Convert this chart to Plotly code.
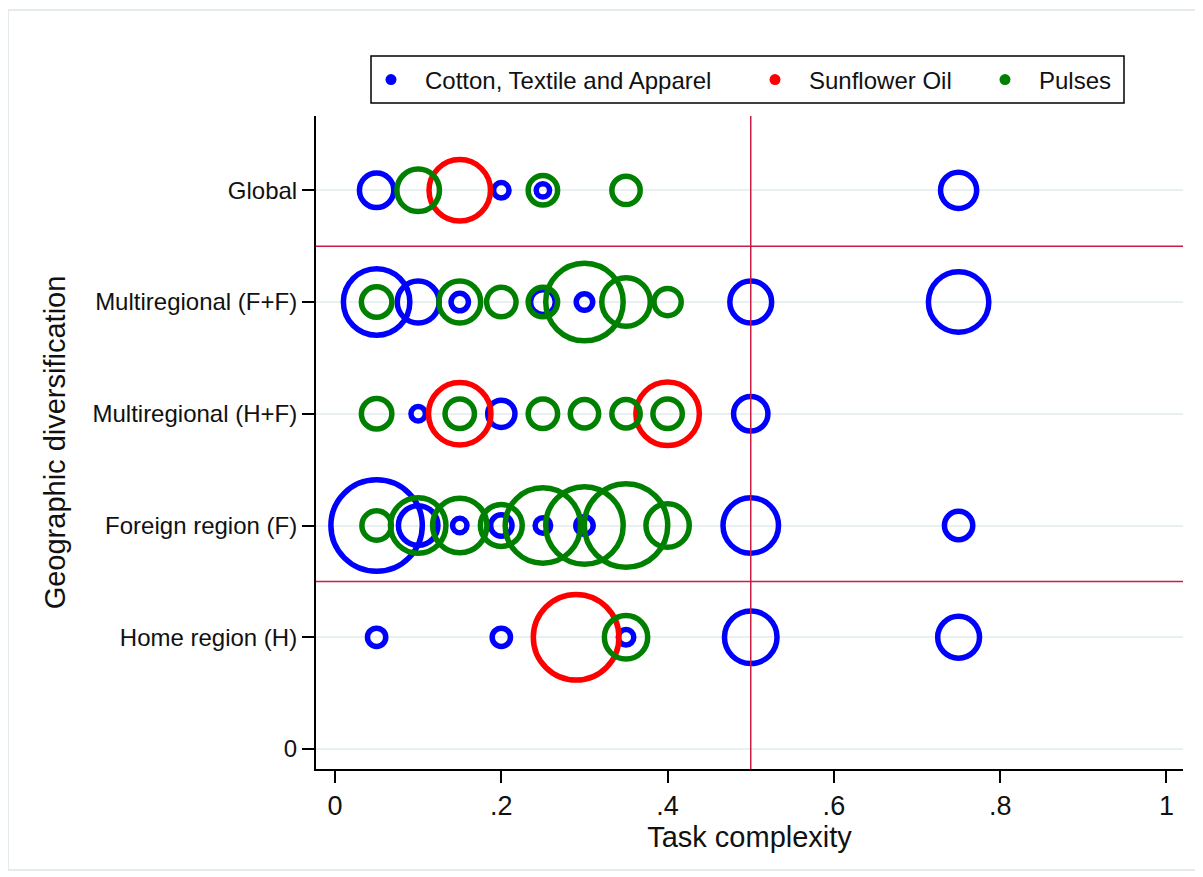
import plotly.graph_objects as go
import numpy as np

# ---------------- data ----------------
y_tickvals = [0, 1, 2, 3, 4, 5]
y_ticktext = ["0", "Home region (H)", "Foreign region (F)", "Multiregional (H+F)",
              "Multiregional (F+F)", "Global"]
x_tickvals = [0, 0.2, 0.4, 0.6, 0.8, 1.0]
x_ticktext = ["0", ".2", ".4", ".6", ".8", "1"]

series_names = ["Cotton, Textile and Apparel", "Sunflower Oil", "Pulses"]

cotton_x = [0.05, 0.2, 0.25, 0.75,
            0.05, 0.1, 0.15, 0.25, 0.3, 0.5, 0.75,
            0.1, 0.2, 0.5,
            0.05, 0.1, 0.15, 0.2, 0.25, 0.3, 0.5, 0.75,
            0.05, 0.2, 0.35, 0.5, 0.75]
cotton_y = [5, 5, 5, 5,
            4, 4, 4, 4, 4, 4, 4,
            3, 3, 3,
            2, 2, 2, 2, 2, 2, 2, 2,
            1, 1, 1, 1, 1]
cotton_w = [19, 4, 3, 21,
            70, 28, 5, 10, 4.5, 28, 58,
            3.5, 12, 19,
            132, 25, 3.5, 7.5, 4, 5, 49, 13,
            5.5, 5.5, 4, 44, 28]

sunflower_x = [0.15, 0.15, 0.4, 0.29]
sunflower_y = [5, 3, 3, 1]
sunflower_w = [60, 62, 64, 116]

pulses_x = [0.1, 0.25, 0.35,
            0.05, 0.15, 0.2, 0.25, 0.3, 0.35, 0.4,
            0.05, 0.15, 0.25, 0.3, 0.35, 0.4,
            0.05, 0.1, 0.15, 0.2, 0.25, 0.3, 0.35, 0.4,
            0.35]
pulses_y = [5, 5, 5,
            4, 4, 4, 4, 4, 4, 4,
            3, 3, 3, 3, 3, 3,
            2, 2, 2, 2, 2, 2, 2, 2,
            1]
pulses_w = [29, 14, 13,
            15, 28, 14, 14, 95, 37.5, 12,
            15, 14, 14, 13, 13, 14,
            14, 49, 47, 28, 90, 95, 110, 30,
            30]

h_ref_lines = [1.5, 4.5]
v_ref_lines = [0.5]

# ---------------- style ----------------
colors = ["#0000ff", "#ff0000", "#008000"]
ring_w = 5.5
size_k = 8.0
FONT = "Liberation Sans, Arial, sans-serif"
ref_color = "#c81e46"

# page has an 8px body margin; figure is sized to fit the 1203x877 window
OFF = 8
W, H = 1203 - OFF, 877 - OFF
# plot-area edges in screen pixels
SL, SR, ST, SB = 316, 1183, 116, 769
L, T = SL - OFF, ST - OFF
R, B = W - (SR - OFF), H - (SB - OFF)
pw, ph = SR - SL, SB - ST


def px2paper_x(px):
    return (px - SL) / pw


def px2paper_y(py):
    return (SB - py) / ph


fig = go.Figure()

data = [(cotton_x, cotton_y, cotton_w),
        (sunflower_x, sunflower_y, sunflower_w),
        (pulses_x, pulses_y, pulses_w)]

for (xs, ys, ws), name, col in zip(data, series_names, colors):
    sizes = size_k * np.sqrt(np.array(ws, dtype=float)) - (ring_w - 5)
    fig.add_trace(go.Scatter(
        x=xs, y=ys, mode="markers", name=name, showlegend=False,
        marker=dict(symbol="circle", size=sizes, color="rgba(0,0,0,0)", opacity=1,
                    line=dict(color=col, width=ring_w)),
        hoverinfo="x+y+name",
    ))

# legend-only entries (filled dots, as in the reference legend)
legend_ids = ["legend", "legend2", "legend3"]
for name, col, lid in zip(series_names, colors, legend_ids):
    fig.add_trace(go.Scatter(
        x=[None], y=[None], mode="markers", name=name, legend=lid,
        marker=dict(symbol="circle", size=11, color=col, opacity=1),
    ))

# reference lines
for yv in h_ref_lines:
    fig.add_shape(type="line", xref="paper", yref="y", x0=0, x1=1, y0=yv, y1=yv,
                  line=dict(color=ref_color, width=1.5), layer="above")
for xv in v_ref_lines:
    fig.add_shape(type="line", xref="x", yref="paper", x0=xv, x1=xv, y0=0, y1=1,
                  line=dict(color=ref_color, width=1.5), layer="above")

# legend frame
fig.add_shape(type="rect", xref="paper", yref="paper",
              x0=px2paper_x(371), x1=px2paper_x(1124),
              y0=px2paper_y(103), y1=px2paper_y(56),
              line=dict(color="black", width=1.5), fillcolor="rgba(0,0,0,0)")
# outer graph-region frame
fig.add_shape(type="rect", xref="paper", yref="paper",
              x0=px2paper_x(8), x1=px2paper_x(1197),
              y0=px2paper_y(870), y1=px2paper_y(10),
              line=dict(color="#e3ebee", width=2), fillcolor="rgba(0,0,0,0)")

leg_common = dict(orientation="h", xanchor="left", yanchor="middle",
                  bgcolor="rgba(0,0,0,0)", borderwidth=0, itemwidth=58,
                  font=dict(family=FONT, size=24, color="#111111"))
leg_y = px2paper_y(80)
fig.update_layout(
    legend=dict(x=px2paper_x(357), y=leg_y, **leg_common),
    legend2=dict(x=px2paper_x(741), y=leg_y, **leg_common),
    legend3=dict(x=px2paper_x(971), y=leg_y, **leg_common),
)

fig.update_layout(
    width=W, height=H,
    margin=dict(l=L, r=R, t=T, b=B, autoexpand=False),
    paper_bgcolor="white", plot_bgcolor="white",
    font=dict(family=FONT, color="#111111"),
    xaxis=dict(
        range=[-0.0229, 1.0199], tickvals=x_tickvals, ticktext=x_ticktext,
        showgrid=False, zeroline=False, showline=True, linecolor="black", linewidth=2,
        ticks="outside", ticklen=12, tickwidth=2, tickcolor="black",
        tickfont=dict(family=FONT, size=27, color="#111111"),
        title=dict(text="Task complexity", font=dict(family=FONT, size=29, color="#111111"),
                   standoff=0),
    ),
    yaxis=dict(
        range=[-0.179, 5.665], tickvals=y_tickvals, ticktext=y_ticktext,
        showgrid=True, gridcolor="#e8f0f2", gridwidth=1.5,
        zeroline=False, showline=True, linecolor="black", linewidth=2,
        ticks="outside", ticklen=12, tickwidth=2, tickcolor="black",
        tickfont=dict(family=FONT, size=24, color="#111111"),
        title=dict(text="Geographic diversification", font=dict(family=FONT, size=29, color="#111111"),
                   standoff=18),
    ),
)

fig.write_html("out.html")
